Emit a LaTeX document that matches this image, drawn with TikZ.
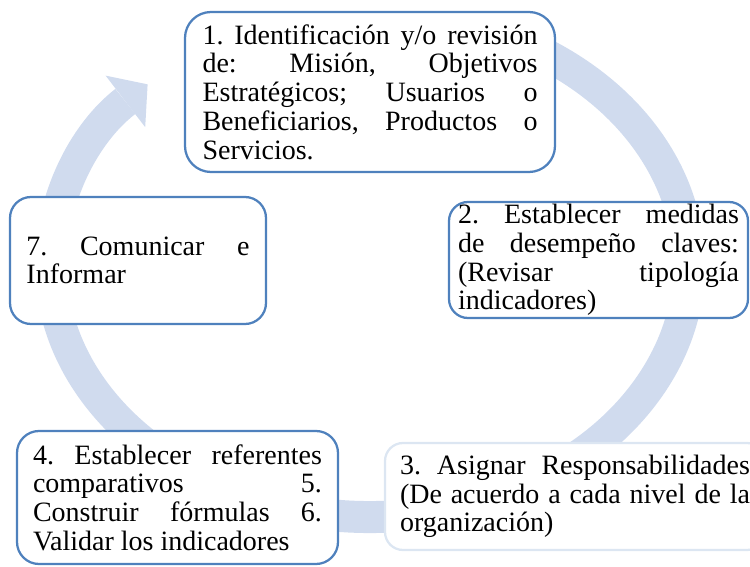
\documentclass[tikz,border=0pt]{standalone}
\usepackage{fontspec}
\setmainfont{Liberation Serif}
\usetikzlibrary{arrows.meta}
\definecolor{boxblue}{HTML}{4F81BD}
\definecolor{boxpale}{HTML}{DCE6F2}
\definecolor{arcblue}{HTML}{D0DBEE}
\tolerance=10000
\hbadness=10000
\hyphenpenalty=10000
\begin{document}
\begin{tikzpicture}[x=1pt,y=1pt,font=\fontsize{28}{28.7}\selectfont\frenchspacing]
        \tikzstyle{paso}=[draw=boxblue, line width=2.25pt, fill=white, align=justify, inner ysep=0pt]
        \tikzstyle{pasoclaro}=[paso, draw=boxpale]
        \useasboundingbox (0,0) rectangle (750,566);
        \clip (0,0) rectangle (750,566);
        \coordinate (c) at (370,301);
        \draw[arcblue, line width=32pt, -{Triangle[width=65pt,length=28pt,line width=0pt]}]
          (c) ++(62:319pt and 252pt)
          arc[start angle=62, end angle=-225.8, x radius=319pt, y radius=252pt];
        \node[paso, text width=335pt, inner xsep=17.5pt, minimum height=160pt, rounded corners=26pt] (a) at (370,474)
          {1. Identificación y/o revisión\linebreak de: Misión, Objetivos\linebreak Estratégicos; Usuarios o\linebreak Beneficiarios, Productos o\linebreak Servicios.};
        \node[paso, text width=281pt, inner xsep=9pt, minimum height=116pt, rounded corners=19pt] (b) at (598.5,306)
          {2. Establecer medidas\linebreak de desempeño claves:\linebreak (Revisar tipología\linebreak indicadores)};
        \node[pasoclaro, text width=350pt, inner xsep=15pt, minimum height=107pt, rounded corners=18pt] (c3) at (575,69.5)
          {3. Asignar Responsabilidades\linebreak (De acuerdo a cada nivel de la\linebreak organización)};
        \node[paso, text width=289pt, inner xsep=16pt, minimum height=133pt, rounded corners=22pt] (d) at (177.5,68.5)
          {4. Establecer referentes\linebreak comparativos 5.\linebreak Construir fórmulas 6.\linebreak Validar los indicadores};
        \node[paso, text width=223pt, inner xsep=16.5pt, minimum height=127pt, rounded corners=21pt] (g) at (138,305.5)
          {7. Comunicar e\linebreak Informar};
\end{tikzpicture}
\end{document}
